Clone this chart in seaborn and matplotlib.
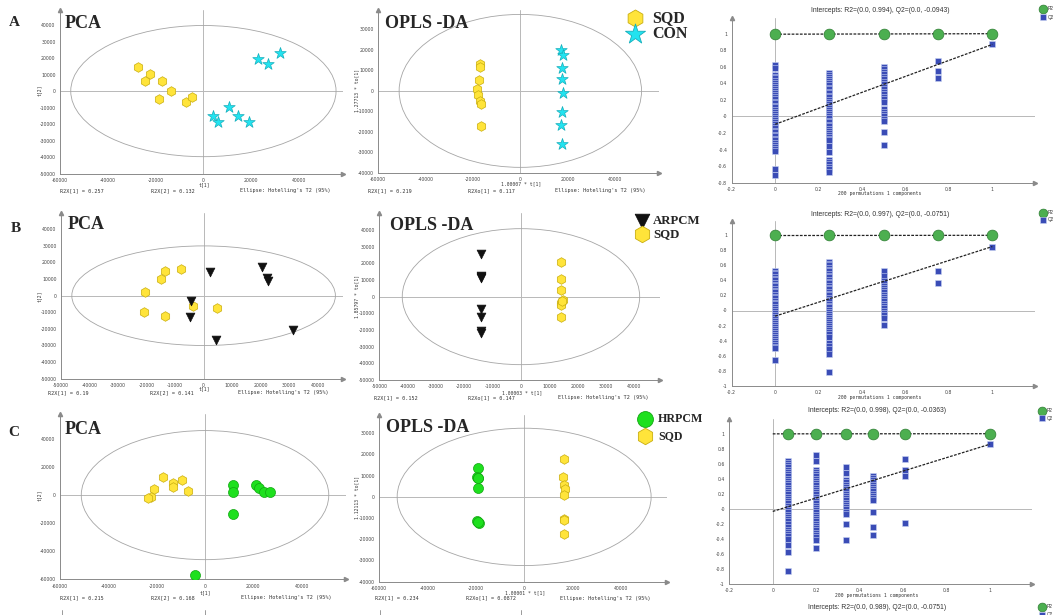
import numpy as np
import pandas as pd
import matplotlib
matplotlib.use("Agg")
import matplotlib.pyplot as plt
import seaborn as sns
from matplotlib.patches import Ellipse
from matplotlib.ticker import AutoMinorLocator, FuncFormatter

# ---------------- data ----------------
# Row A
pcaA_sqd_x = [-27300, -22500, -24300, -17200, -13400, -18500, -7100, -4800]
pcaA_sqd_y = [14700, 10300, 6300, 6300, -200, -4600, -6700, -3600]
pcaA_con_x = [32000, 22800, 26900, 10800, 4100, 14400, 5900, 19200]
pcaA_con_y = [23200, 19200, 16100, -9500, -15100, -14900, -19000, -18800]
oplsA_sqd_x = [-17100, -17100, -17500, -18500, -17800, -17100, -16800, -16800]
oplsA_sqd_y = [13300, 11800, 5200, 1100, -2100, -5000, -6300, -17200]
oplsA_con_x = [17300, 18000, 17500, 17700, 18000, 17500, 17100, 17700]
oplsA_con_y = [20100, 17300, 11200, 6000, -1100, -10500, -16400, -26100]
# Row B
pcaB_sqd_x = [-20400, -14900, -13500, -8100, -20900, -13500, -3800, 4600]
pcaB_sqd_y = [2400, 10300, 14900, 16100, -10100, -12300, -6200, -7200]
pcaB_arp_x = [2300, 20400, 22200, 22400, -4300, -4700, 4300, 31300]
pcaB_arp_y = [14500, 17500, 10900, 9100, -3200, -12700, -26900, -20900]
oplsB_arp_x = [-14200, -14200, -14000, -14200, -14200, -14200, -14200, -14100]
oplsB_arp_y = [25600, 12400, 11000, -7600, -12400, -20600, -22000, 12000]
oplsB_sqd_x = [14000, 14300, 14300, 14800, 14000, 14000, 14200, 14400]
oplsB_sqd_y = [21000, 10600, 3800, -2000, -3600, -5000, -12000, -2500]
# Row C
pcaC_sqd_x = [-17200, -13400, -13200, -9400, -7200, -21000, -22200, -23500]
pcaC_sqd_y = [13100, 8800, 6000, 10700, 3100, 4100, -1000, -2400]
pcaC_hrp_x = [11500, 11500, 11700, 21100, 22300, 24600, 26900, -4000]
pcaC_hrp_y = [7400, 2100, -13300, 6900, 5000, 1900, 1900, -56700]
oplsC_hrp_x = [-19100, -19400, -19100, -19100, -19400, -18800, -19200, -19000]
oplsC_hrp_y = [13400, 9400, 8700, 4300, -11600, -12300, 9000, -12000]
oplsC_sqd_x = [16600, 16200, 16500, 16900, 16600, 16500, 16500, 16500]
oplsC_sqd_y = [18100, 9300, 5500, 3900, 1100, -10200, -10700, -17600]

# Hotelling T2 ellipse half-axes (x, y)
ellA_pca = (55500, 39700)
ellA_opls = (51200, 37250)
ellB_pca = (46200, 30000)
ellB_opls = (41900, 40800)
ellC_pca = (51200, 46000)
ellC_opls = (52600, 32400)

# Permutation tests
permA_x = [0, 0.25, 0.5, 0.75, 1.0]
permA_r2 = [1.0, 1.0, 1.0, 1.0, 1.0]
permA_q2 = [
    [0.62, 0.58, 0.50, 0.48, 0.46, 0.43, 0.41, 0.38, 0.36, 0.33, 0.31, 0.28, 0.26, 0.23, 0.21,
     0.18, 0.16, 0.13, 0.11, 0.08, 0.06, 0.03, 0.01, -0.02, -0.04, -0.07, -0.09, -0.12, -0.14,
     -0.17, -0.19, -0.22, -0.24, -0.27, -0.29, -0.32, -0.34, -0.37, -0.39, -0.42, -0.63, -0.71],
    [0.53, 0.50, 0.48, 0.45, 0.43, 0.40, 0.38, 0.35, 0.33, 0.30, 0.28, 0.25, 0.23, 0.20, 0.18,
     0.15, 0.13, 0.10, 0.08, 0.05, 0.03, 0.00, -0.02, -0.05, -0.07, -0.10, -0.12, -0.15, -0.17,
     -0.20, -0.22, -0.25, -0.27, -0.29, -0.36, -0.43, -0.52, -0.55, -0.58, -0.61, -0.64, -0.67],
    [0.60, 0.57, 0.54, 0.51, 0.48, 0.45, 0.42, 0.39, 0.36, 0.33, 0.30, 0.27, 0.24, 0.21, 0.18,
     0.09, 0.06, 0.03, 0.00, -0.03, -0.05, -0.19, -0.34],
    [0.67, 0.55, 0.46],
    [0.87],
]
permA_int = (0.994, -0.0943)

permB_x = [0, 0.25, 0.5, 0.75, 1.0]
permB_r2 = [1.0, 1.0, 1.0, 1.0, 1.0]
permB_q2 = [
    [0.53, 0.50, 0.48, 0.45, 0.42, 0.40, 0.37, 0.34, 0.32, 0.29, 0.26, 0.24, 0.21, 0.18, 0.16,
     0.13, 0.10, 0.08, 0.05, 0.02, 0.00, -0.03, -0.06, -0.08, -0.11, -0.14, -0.16, -0.19, -0.22,
     -0.24, -0.27, -0.30, -0.32, -0.35, -0.38, -0.40, -0.43, -0.46, -0.48, -0.50, -0.66],
    [0.65, 0.62, 0.60, 0.57, 0.54, 0.52, 0.49, 0.46, 0.44, 0.41, 0.38, 0.36, 0.33, 0.30, 0.28,
     0.25, 0.22, 0.20, 0.17, 0.14, 0.12, 0.09, 0.06, 0.04, 0.01, -0.02, -0.04, -0.07, -0.10,
     -0.12, -0.15, -0.18, -0.20, -0.23, -0.26, -0.28, -0.31, -0.35, -0.43, -0.47, -0.51, -0.58, -0.82],
    [0.53, 0.46, 0.39, 0.36, 0.33, 0.30, 0.27, 0.24, 0.21, 0.18, 0.15, 0.12, 0.09, 0.06, 0.03,
     0.00, -0.03, -0.06, -0.10, -0.19],
    [0.53, 0.37],
    [0.85],
]
permB_int = (0.997, -0.0751)

permC_x = [0.072, 0.198, 0.339, 0.463, 0.610, 1.0]
permC_r2 = [1.0, 1.0, 1.0, 1.0, 1.0, 1.0]
permC_q2 = [
    [0.64, 0.61, 0.58, 0.55, 0.52, 0.49, 0.46, 0.43, 0.40, 0.37, 0.34, 0.31, 0.28, 0.25, 0.22,
     0.19, 0.16, 0.13, 0.10, 0.07, 0.04, 0.01, -0.02, -0.05, -0.08, -0.11, -0.14, -0.17, -0.20,
     -0.25, -0.28, -0.31, -0.34, -0.37, -0.40, -0.49, -0.58, -0.83],
    [0.72, 0.64, 0.52, 0.49, 0.46, 0.43, 0.40, 0.37, 0.34, 0.31, 0.28, 0.25, 0.22, 0.19, 0.16,
     0.13, 0.10, 0.07, 0.04, 0.01, -0.02, -0.05, -0.08, -0.11, -0.14, -0.17, -0.20, -0.23, -0.26,
     -0.29, -0.32, -0.35, -0.38, -0.42, -0.52],
    [0.55, 0.48, 0.38, 0.35, 0.32, 0.29, 0.26, 0.23, 0.20, 0.17, 0.14, 0.11, 0.08, 0.05, 0.02,
     -0.01, -0.04, -0.07, -0.20, -0.42],
    [0.44, 0.41, 0.38, 0.35, 0.32, 0.29, 0.26, 0.23, 0.20, 0.17, 0.14, 0.12, -0.05, -0.24, -0.35],
    [0.66, 0.51, 0.44, -0.19],
    [0.86],
]
permC_int = (0.998, -0.0363)

# ---------------- style ----------------
sns.set_style("white")
plt.rcParams["font.family"] = ["DejaVu Sans"]

W, H = 1054, 615
fig = plt.figure(figsize=(W / 100, H / 100), dpi=100)
fig.patch.set_facecolor("white")

YEL, YEL_E = "#FFE43A", "#C9AE10"
CYA, CYA_E = "#22E3F0", "#14AEBB"
BLK = "#111111"
GRN, GRN_E = "#1EE01E", "#12A512"
PGRN, PGRN_E = "#4CAF50", "#2E7D32"
PBLU, PBLU_E = "#3A4CB6", "#C8D2F2"
AX_C = "#8a8a8a"
SERIF = "Liberation Serif"
MONO = "DejaVu Sans Mono"
SANS = "Liberation Sans"


def place(xv, xp, yv, yp, xlim, ylim):
    sx = (xp[1] - xp[0]) / (xv[1] - xv[0])
    left = xp[0] + (xlim[0] - xv[0]) * sx
    right = xp[0] + (xlim[1] - xv[0]) * sx
    sy = (yp[1] - yp[0]) / (yv[1] - yv[0])
    top = yp[0] + (ylim[1] - yv[0]) * sy
    bottom = yp[0] + (ylim[0] - yv[0]) * sy
    ax = fig.add_axes([left / W, 1 - bottom / H, (right - left) / W, (bottom - top) / H])
    ax.set_xlim(*xlim)
    ax.set_ylim(*ylim)
    return ax


def style(ax, xticks, yticks, nminor, fs):
    ax.patch.set_alpha(0)
    ax.set_xticks(xticks)
    ax.set_yticks(yticks)
    ax.xaxis.set_minor_locator(AutoMinorLocator(nminor))
    ax.yaxis.set_minor_locator(AutoMinorLocator(nminor))
    fmt = FuncFormatter(lambda v, p: ("%g" % round(v, 6)))
    ax.xaxis.set_major_formatter(fmt)
    ax.yaxis.set_major_formatter(fmt)
    for s in ["top", "right"]:
        ax.spines[s].set_visible(False)
    for s in ["left", "bottom"]:
        ax.spines[s].set_color(AX_C)
        ax.spines[s].set_linewidth(0.7)
    ax.tick_params(which="major", direction="out", length=2.0, width=0.5, color=AX_C,
                   labelsize=fs, labelcolor="#444444", pad=1.2)
    ax.tick_params(which="minor", direction="out", length=1.1, width=0.4, color=AX_C)
    ax.plot([1], [0], marker=">", ms=3, color=AX_C, transform=ax.transAxes, clip_on=False)
    ax.plot([0], [1], marker="^", ms=3, color=AX_C, transform=ax.transAxes, clip_on=False)
    ax.axhline(0, color="#b8b8b8", lw=0.7, zorder=0)
    ax.axvline(0, color="#b8b8b8", lw=0.7, zorder=0)


def scores(ax, ell, groups):
    ax.add_patch(Ellipse((0, 0), 2 * ell[0], 2 * ell[1], fill=False, edgecolor="#a5a5a5", lw=0.6))
    for xs, ys, mk, s, c, ec in groups:
        sns.scatterplot(x=xs, y=ys, marker=mk, s=s, color=c, edgecolor=ec, linewidth=0.5,
                        ax=ax, zorder=3, legend=False)
    ax.set_xlabel("")
    ax.set_ylabel("")


def perm(ax, xs, r2, q2cols, ints):
    qx, qy = [], []
    for xv, col in zip(xs, q2cols):
        qx += [xv] * len(col)
        qy += col
    df_q = pd.DataFrame({"x": qx, "y": qy})
    ax.plot([0, xs[-1]], [ints[0], r2[-1]], ls=(0, (2.2, 1.1)), color="#222222", lw=0.9, zorder=4)
    ax.plot([0, xs[-1]], [ints[1], q2cols[-1][0]], ls=(0, (2.2, 1.1)), color="#222222", lw=0.9, zorder=4)
    sns.scatterplot(data=df_q, x="x", y="y", marker="s", s=16, color=PBLU, edgecolor=PBLU_E,
                    linewidth=0.4, ax=ax, zorder=3, legend=False)
    sns.scatterplot(x=xs, y=r2, marker="o", s=60, color=PGRN, edgecolor=PGRN_E, linewidth=0.5,
                    ax=ax, zorder=5, legend=False)
    ax.set_xlabel("")
    ax.set_ylabel("")


SC_FS = 3.3
PM_FS = 3.3

# ---------------- Row A ----------------
ax = place((-60000, 40000), (60, 299), (40000, -50000), (25, 173.7), (-60000, 58400), (-50000, 49000))
style(ax, np.arange(-60000, 40001, 20000), np.arange(-50000, 40001, 10000), 4, SC_FS)
scores(ax, ellA_pca, [(pcaA_sqd_x, pcaA_sqd_y, "h", 48, YEL, YEL_E),
                      (pcaA_con_x, pcaA_con_y, "*", 75, CYA, CYA_E)])

ax = place((-60000, 40000), (378.3, 615), (30000, -40000), (29.3, 173), (-60000, 58650), (-40000, 39200))
style(ax, np.arange(-60000, 40001, 20000), np.arange(-40000, 30001, 10000), 4, SC_FS)
scores(ax, ellA_opls, [(oplsA_sqd_x, oplsA_sqd_y, "h", 48, YEL, YEL_E),
                       (oplsA_con_x, oplsA_con_y, "*", 75, CYA, CYA_E)])

ax = place((-0.2, 1), (731.7, 992.3), (1, -0.8), (33.7, 182.7), (-0.2, 1.195), (-0.8, 1.186))
style(ax, np.arange(-0.2, 1.01, 0.2), np.arange(-0.8, 1.01, 0.2), 2, PM_FS)
perm(ax, permA_x, permA_r2, permA_q2, permA_int)

# ---------------- Row B ----------------
ax = place((-50000, 40000), (61, 317.7), (40000, -50000), (229.3, 378.7), (-50000, 49000), (-50000, 49600))
style(ax, np.arange(-50000, 40001, 10000), np.arange(-50000, 40001, 10000), 4, SC_FS)
scores(ax, ellB_pca, [(pcaB_sqd_x, pcaB_sqd_y, "h", 48, YEL, YEL_E),
                      (pcaB_arp_x, pcaB_arp_y, "v", 40, BLK, BLK)])

ax = place((-50000, 40000), (379.3, 634.3), (40000, -50000), (230, 380), (-50000, 49000), (-50000, 50000))
style(ax, np.arange(-50000, 40001, 10000), np.arange(-50000, 40001, 10000), 4, SC_FS)
scores(ax, ellB_opls, [(oplsB_sqd_x, oplsB_sqd_y, "h", 48, YEL, YEL_E),
                       (oplsB_arp_x, oplsB_arp_y, "v", 40, BLK, BLK)])

ax = place((-0.2, 1), (731.7, 992.3), (1, -1), (235.3, 385.7), (-0.2, 1.195), (-1, 1.195))
style(ax, np.arange(-0.2, 1.01, 0.2), np.arange(-1, 1.01, 0.2), 2, PM_FS)
perm(ax, permB_x, permB_r2, permB_q2, permB_int)

# ---------------- Row C ----------------
ax = place((-60000, 40000), (60, 301.7), (40000, -60000), (439, 579.3), (-60000, 58300), (-60000, 57600))
style(ax, np.arange(-60000, 40001, 20000), np.arange(-60000, 40001, 20000), 4, SC_FS)
scores(ax, ellC_pca, [(pcaC_sqd_x, pcaC_sqd_y, "h", 48, YEL, YEL_E),
                      (pcaC_hrp_x, pcaC_hrp_y, "o", 52, GRN, GRN_E)])

ax = place((-60000, 40000), (379.3, 620.7), (30000, -40000), (433.3, 581.7), (-60000, 59000), (-40000, 38800))
style(ax, np.arange(-60000, 40001, 20000), np.arange(-40000, 30001, 10000), 4, SC_FS)
scores(ax, ellC_opls, [(oplsC_sqd_x, oplsC_sqd_y, "h", 48, YEL, YEL_E),
                       (oplsC_hrp_x, oplsC_hrp_y, "o", 52, GRN, GRN_E)])

ax = place((-0.2, 1), (729.3, 990), (1, -1), (433.7, 583.7), (-0.2, 1.193), (-1, 1.196))
style(ax, np.arange(-0.2, 1.01, 0.2), np.arange(-1, 1.01, 0.2), 2, PM_FS)
perm(ax, permC_x, permC_r2, permC_q2, permC_int)

# ---------------- overlay texts / legends ----------------
ov = fig.add_axes([0, 0, 1, 1], zorder=10)
ov.axis("off")


def t(x, y, s, **kw):
    ov.text(x, y, s, **kw)


big = dict(family=SERIF, fontweight="bold", va="center")

# OPLS-DA group legends (marker x, y, marker, size, colour, edge, text x, label, font size)
leg = [
    (635, 18, "h", 150, YEL, YEL_E, 652, "SQD", 11.5),
    (635, 34, "*", 230, CYA, CYA_E, 652, "CON", 11.5),
    (641.7, 220.7, "v", 110, BLK, BLK, 653, "ARPCM", 9.2),
    (641.7, 234.3, "h", 140, YEL, YEL_E, 653, "SQD", 9.2),
    (645, 419, "o", 130, GRN, GRN_E, 658, "HRPCM", 8.6),
    (645, 435.7, "h", 140, YEL, YEL_E, 658, "SQD", 8.6),
]
for x, y, mk, s, c, ec, tx, lab, fs in leg:
    sns.scatterplot(x=[x], y=[y], marker=mk, s=s, color=c, edgecolor=ec, linewidth=0.6,
                    ax=ov, legend=False, clip_on=False)

# permutation legends
perm_leg = [(1043, 9, 17), (1043, 212.7, 220), (1041.7, 410.7, 418.3), (1041.7, 606.7, 614.5)]
for x, y1, y2 in perm_leg:
    sns.scatterplot(x=[x], y=[y1], marker="o", s=40, color=PGRN, edgecolor=PGRN_E, linewidth=0.5,
                    ax=ov, legend=False, clip_on=False)
    sns.scatterplot(x=[x], y=[y2], marker="s", s=14, color=PBLU, edgecolor=PBLU_E, linewidth=0.4,
                    ax=ov, legend=False, clip_on=False)

# fragments of the next row at the bottom edge
for x in [62, 205, 380, 521]:
    ov.plot([x, x], [610, 615], color=AX_C, lw=0.6)

ov.set_xlim(0, W)
ov.set_ylim(H, 0)
ov.set_xlabel("")
ov.set_ylabel("")
ov.axis("off")

for x, y, mk, s, c, ec, tx, lab, fs in leg:
    t(tx, y, lab, family=SERIF, fontweight="bold", fontsize=fs, va="center", ha="left")
for x, y1, y2 in perm_leg:
    t(x + 5, y1, "R2", family=SANS, fontsize=3.3, color="#333333", va="center", ha="left")
    t(x + 5, y2, "Q2", family=SANS, fontsize=3.3, color="#333333", va="center", ha="left")

for x, y, s in [(14.5, 22, "A"), (15.8, 229, "B"), (13.8, 433, "C")]:
    t(x, y, s, fontsize=11, ha="center", **big)
for x, y in [(65, 23.5), (68, 224.5), (65, 429)]:
    t(x, y, "PCA", fontsize=13, ha="left", **big)
for x, y in [(385, 23.5), (390, 225), (386, 427.5)]:
    t(x, y, "OPLS -DA", fontsize=13, ha="left", **big)

mono = dict(family=MONO, fontsize=3.7, color="#333333", va="center", ha="left")
for y, xs, txts in [
    (190.7, (60, 151, 240), ("R2X[1] = 0.257", "R2X[2] = 0.132", "Ellipse: Hotelling's T2 (95%)")),
    (190.7, (368, 468, 555), ("R2X[1] = 0.219", "R2Xo[1] = 0.117", "Ellipse: Hotelling's T2 (95%)")),
    (392.7, (48, 150, 238), ("R2X[1] = 0.19", "R2X[2] = 0.141", "Ellipse: Hotelling's T2 (95%)")),
    (397.7, (374, 468, 558), ("R2X[1] = 0.152", "R2Xo[1] = 0.147", "Ellipse: Hotelling's T2 (95%)")),
    (597.7, (60, 151, 241), ("R2X[1] = 0.215", "R2X[2] = 0.168", "Ellipse: Hotelling's T2 (95%)")),
    (598.3, (375, 466, 560), ("R2X[1] = 0.234", "R2Xo[1] = 0.0872", "Ellipse: Hotelling's T2 (95%)")),
]:
    for x, s in zip(xs, txts):
        t(x, y, s, **mono)

small = dict(family=MONO, fontsize=3.4, color="#333333", va="center", ha="center")
for x, y in [(204, 185), (204, 388.5), (205.7, 592.7)]:
    t(x, y, "t[1]", **small)
for x, y, s in [(520.7, 184, "1.00007 * t[1]"), (521.7, 392.5, "1.00003 * t[1]"),
                (525, 592.5, "1.00001 * t[1]")]:
    t(x, y, s, **small)
for x, y in [(40, 90), (40, 296.7), (40, 495)]:
    t(x, y, "t[2]", rotation=90, **small)
for x, y, s in [(356.5, 90, "1.27713 * to[1]"), (356.5, 296.7, "1.85797 * to[1]"),
                (356.5, 497, "1.12113 * to[1]")]:
    t(x, y, s, rotation=90, **small)

sans = dict(family=SANS, fontsize=4.9, color="#333333", va="center", ha="center")
for x, y, s in [(880, 10, "Intercepts: R2=(0.0, 0.994), Q2=(0.0, -0.0943)"),
                (880, 214, "Intercepts: R2=(0.0, 0.997), Q2=(0.0, -0.0751)"),
                (876.7, 411, "Intercepts: R2=(0.0, 0.998), Q2=(0.0, -0.0363)"),
                (876.7, 607.3, "Intercepts: R2=(0.0, 0.989), Q2=(0.0, -0.0751)")]:
    t(x, y, s, **sans)
for x, y in [(880, 194), (880, 397.3), (876.7, 595.7)]:
    t(x, y, "200 permutations 1 components", **small)

fig.savefig("out.png", dpi=100, facecolor="white")
